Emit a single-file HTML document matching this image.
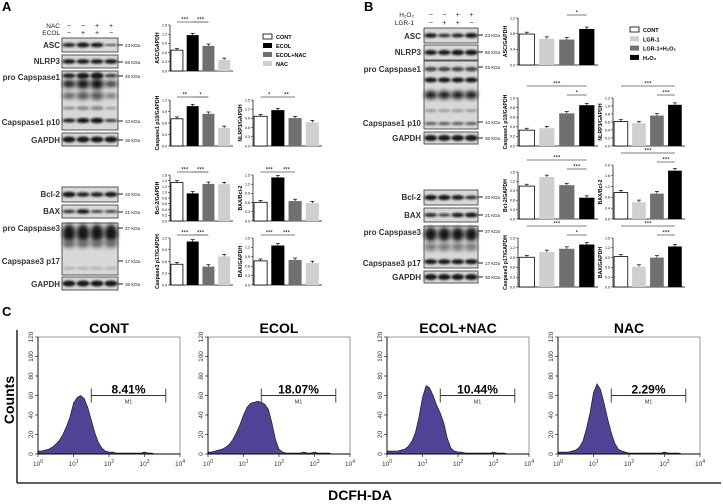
<!DOCTYPE html>
<html><head><meta charset="utf-8"><style>
html,body{margin:0;padding:0;background:#fff;}
svg{display:block;font-family:"Liberation Sans",Arial,sans-serif;}
</style></head><body>
<svg id="fig" width="723" height="504" viewBox="0 0 723 504" xmlns="http://www.w3.org/2000/svg">
<defs><filter id="blur" x="-20%" y="-50%" width="140%" height="200%"><feGaussianBlur stdDeviation="1.1"/></filter>
<filter id="blur2" x="-20%" y="-50%" width="140%" height="200%"><feGaussianBlur stdDeviation="2.2"/></filter></defs>
<text x="2" y="11" font-size="13" font-weight="bold">A</text>
<text x="364" y="11" font-size="13" font-weight="bold">B</text>
<text x="2" y="316" font-size="13" font-weight="bold">C</text>
<g id="root"></g>
</svg>
<script>
// ===== Bar chart data =====
const groupsA = ["CONT","ECOL","ECOL+NAC","NAC"];
const groupsB = ["CONT","LGR-1","LGR-1+H2O2","H2O2"];
const aAscValues = [0.68,1.17,0.82,0.36];
const aCasp1Values = [0.71,1.04,0.84,0.47];
const aNlrp3Values = [0.97,1.17,0.91,0.77];
const aBcl2Values = [1.34,0.96,1.29,1.28];
const aBaxBcl2Values = [0.61,1.42,0.65,0.58];
const aCasp3Values = [0.53,1.11,0.47,0.73];
const aBaxValues = [0.77,1.26,0.80,0.70];
const bAscValues = [0.79,0.67,0.65,0.92];
const bCasp1Values = [0.33,0.37,0.68,0.85];
const bNlrp3Values = [0.61,0.57,0.76,1.03];
const bBcl2Values = [1.05,1.34,1.08,0.68];
const bBaxBcl2Values = [0.98,0.62,0.94,1.79];
const bCasp3Values = [0.91,1.07,1.17,1.30];
const bBaxValues = [0.93,0.62,0.90,1.24];
// ===== Histogram data (counts at log10 = 0.0,0.1,...,4.0) =====
const histLogBins = [0,0.1,0.2,0.3,0.4,0.5,0.6,0.7,0.8,0.9,1.0,1.1,1.2,1.3,1.4,1.5,1.6,1.7,1.8,1.9,2.0,2.1,2.2,2.3,2.4,2.5,2.6,2.7,2.8,2.9,3.0,3.1,3.2,3.3,3.4,3.5,3.6,3.7,3.8,3.9,4.0];
const histCont = [3,3,4,5,7,10,14,20,28,38,52,58,60,57,48,35,22,12,6,3,2,2,1,1,1,1,1,1,1,1,2,1,1,0,0,0,0,0,0,0,0];
const histEcol = [2,2,3,4,5,7,10,15,22,30,40,48,52,53,54,53,51,46,32,15,5,2,1,1,1,1,1,2,1,1,2,1,1,1,1,0,0,0,0,0,0];
const histEcolNac = [3,3,3,3,4,5,8,13,22,38,58,70,68,60,50,42,32,16,6,3,2,2,1,1,1,1,1,1,1,1,2,1,1,1,0,0,0,0,0,0,0];
const histNac = [2,2,2,2,3,4,7,13,26,42,63,72,66,52,36,22,11,5,3,2,1,1,1,1,1,1,1,1,1,1,2,1,1,1,1,0,0,0,0,0,0];
const histTitles = ["CONT","ECOL","ECOL+NAC","NAC"];
const histPercents = ["8.41%","18.07%","10.44%","2.29%"];
const histYTicks = [0,20,40,60,80,100,120];
const histXTickExps = [0,1,2,3,4];

const NS="http://www.w3.org/2000/svg";
const root=document.getElementById('root');
function el(tag,attrs,parent,txt){const e=document.createElementNS(NS,tag);for(const k in attrs)e.setAttribute(k,attrs[k]);if(txt!==undefined)e.textContent=txt;(parent||root).appendChild(e);return e;}

// ===== Western blots =====
function blot(x,y,w,h,name,intens,rows){
  const g=el('g',{});
  
  
  el('rect',{x:x,y:y,width:w,height:h,fill:'#d8d8d8',stroke:'#333','stroke-width':0.8},g);
  const lw=w/4;
  rows.forEach(r=>{
    for(let i=0;i<4;i++){
      const k=intens[i]*(r.s||1);
      el('ellipse',{cx:x+lw*(i+0.5),cy:y+h*r.y,rx:lw*0.47,ry:r.ry*k,fill:r.c||'#151515',filter:r.b?'url(#blur2)':'url(#blur)',opacity:Math.min(1,0.55+0.5*k)},g);
    }
  });
}
function blotLabel(x,y,txt,name){const t=el('text',{x:x,y:y,'font-size':8,'font-weight':'bold','text-anchor':'end',fill:'#333'},root,txt);}
function kda(x,y,txt){el('line',{x1:x,y1:y,x2:x+5,y2:y,stroke:'#222','stroke-width':1});const t=el('text',{x:x+7,y:y+2,'font-size':4.5,fill:'#222'},root,txt);}
function plusMinus(x0,w,y,signs){for(let i=0;i<4;i++){el('text',{x:x0+w/4*(i+0.5),y:y,'font-size':7,'text-anchor':'middle',fill:'#222'},root,signs[i]);}}

// A blots
let ax=62,aw=56;
el('text',{x:60,y:28,'font-size':6.5,'text-anchor':'end',fill:'#222'},root,'NAC');
el('text',{x:60,y:35,'font-size':6.5,'text-anchor':'end',fill:'#222'},root,'ECOL');
plusMinus(ax,aw,28,['−','−','+','+']);plusMinus(ax,aw,35,['−','+','+','−']);
blot(ax,38,aw,14,'asc-blot-a',[0.8,1,0.9,0.4],[{y:0.5,ry:2.5}]);blotLabel(60,48,'ASC','asc-label');kda(118,45,'23 KDa');
blot(ax,55,aw,13,'nlrp3-blot-a',[1,1,1,1],[{y:0.5,ry:2.3}]);blotLabel(60,64,'NLRP3','nlrp3-label');kda(118,62,'85 KDa');
blot(ax,71,aw,59,'caspase1-blot-a',[0.8,1,1.1,0.6],[{y:0.08,ry:3},{y:0.22,ry:5,b:1},{y:0.42,ry:4,b:1,c:'#555'},{y:0.63,ry:2,c:'#888'},{y:0.84,ry:2.5}]);
blotLabel(60,80,'pro Capspase1','pro-caspase1-label');kda(118,76,'45 KDa');
blotLabel(60,125,'Capspase1 p10','caspase1-p10-label');kda(118,121,'10 KDa');
blot(ax,133,aw,13,'gapdh-blot-a',[1,1,1,1],[{y:0.5,ry:3}]);blotLabel(60,143,'GAPDH','gapdh-label');kda(118,140,'36 KDa');
blot(ax,187,aw,15,'bcl2-blot-a',[1,0.8,0.8,0.9],[{y:0.5,ry:2.8}]);blotLabel(60,197,'Bcl-2','bcl2-label');kda(118,194,'26 KDa');
blot(ax,205,aw,13,'bax-blot-a',[0.7,1,0.6,0.6],[{y:0.5,ry:2.3}]);blotLabel(60,214,'BAX','bax-label');kda(118,212,'21 KDa');
blot(ax,223,aw,52,'caspase3-blot-a',[1,1,1,1],[{y:0.2,ry:9,b:1},{y:0.4,ry:4,b:1,c:'#666'},{y:0.87,ry:1.2,c:'#aaa'}]);
blotLabel(60,231,'pro Capspase3','pro-caspase3-label');kda(118,228,'37 KDa');
blotLabel(60,264,'Capspase3 p17','caspase3-p17-label');kda(118,261,'17 KDa');
blot(ax,277,aw,13,'gapdh-blot-a2',[1,1,1,1],[{y:0.5,ry:3}]);blotLabel(60,287,'GAPDH','gapdh-label-2');kda(118,284,'36 KDa');

// B blots
let bx=424,bw=54;
el('text',{x:414,y:17,'font-size':6.5,'text-anchor':'end',fill:'#222'},root,'H₂O₂');
el('text',{x:414,y:25,'font-size':6.5,'text-anchor':'end',fill:'#222'},root,'LGR-1');
plusMinus(bx,bw,17,['−','−','+','+']);plusMinus(bx,bw,25,['−','+','+','−']);
blot(bx,28,bw,15,'asc-blot-b',[0.9,0.7,0.8,1],[{y:0.5,ry:2.5}]);blotLabel(421,39,'ASC','asc-label-b');kda(478,35,'23 KDa');
blot(bx,45,bw,15,'nlrp3-blot-b',[0.9,0.9,1,1],[{y:0.5,ry:2.8}]);blotLabel(421,55,'NLRP3','nlrp3-label-b');kda(478,52,'85 KDa');
blot(bx,61,bw,68,'caspase1-blot-b',[1,1,1,1],[{y:0.12,ry:2.3,c:'#444'},{y:0.28,ry:2.5},{y:0.5,ry:4,b:1},{y:0.73,ry:1.5,c:'#999'},{y:0.92,ry:1.5,c:'#555'}]);
blotLabel(421,72,'pro Capspase1','pro-caspase1-label-b');kda(478,67,'45 KDa');
blotLabel(421,126,'Capspase1 p10','caspase1-p10-label-b');kda(478,122,'10 KDa');
blot(bx,132,bw,12,'gapdh-blot-b',[1,1,1,1],[{y:0.5,ry:3}]);blotLabel(421,141,'GAPDH','gapdh-label-b');kda(478,138,'36 KDa');
blot(bx,190,bw,15,'bcl2-blot-b',[1,1,0.9,0.7],[{y:0.5,ry:2.6}]);blotLabel(421,200,'Bcl-2','bcl2-label-b');kda(478,197,'26 KDa');
blot(bx,208,bw,14,'bax-blot-b',[0.8,0.6,0.9,1],[{y:0.5,ry:2.4}]);blotLabel(421,218,'BAX','bax-label-b');kda(478,215,'21 KDa');
blot(bx,226,bw,42,'caspase3-blot-b',[1,1,1,1],[{y:0.2,ry:7,b:1},{y:0.5,ry:4,b:1,c:'#777'},{y:0.85,ry:2.5}]);
blotLabel(421,235,'pro Capspase3','pro-caspase3-label-b');kda(478,231,'37 KDa');
blotLabel(421,266,'Capspase3 p17','caspase3-p17-label-b');kda(478,263,'17 KDa');
blot(bx,271,bw,12,'gapdh-blot-b2',[1,1,1,1],[{y:0.5,ry:3}]);blotLabel(421,280,'GAPDH','gapdh-label-b2');kda(478,277,'36 KDa');

// ===== Bar charts =====
const colA=['#fff','#000','#707070','#cfcfcf'];
const colB=['#fff','#cfcfcf','#707070','#000'];
function bars(name,x0,x1,yT,yB,ymax,step,vals,cols,ylab,sigs){
  const g=el('g',{});
  
  
  const ys=v=>yB-(v/ymax)*(yB-yT);
  el('line',{x1:x0,y1:yT,x2:x0,y2:yB,stroke:'#000','stroke-width':0.7},g);
  el('line',{x1:x0,y1:yB,x2:x1,y2:yB,stroke:'#000','stroke-width':0.7},g);
  for(let v=0;v<=ymax+1e-9;v+=step){
    el('line',{x1:x0-2,y1:ys(v),x2:x0,y2:ys(v),stroke:'#000','stroke-width':0.5},g);
    el('text',{x:x0-3,y:ys(v)+1.3,'font-size':3.6,'text-anchor':'end'},g,v.toFixed(1));
  }
  const lt=el('text',{x:0,y:0,'font-size':5.2,'font-weight':'bold','text-anchor':'middle',transform:`translate(${x0-11},${(yT+yB)/2}) rotate(-90)`},g,ylab);
  
  const slot=(x1-x0)/4,bwid=slot*0.76;
  const cx=[];
  vals.forEach((v,i)=>{
    const bx=x0+i*slot+slot*0.06;cx.push(bx+bwid/2);
    const e=ymax*0.04;
    el('line',{x1:bx+bwid/2,y1:ys(v),x2:bx+bwid/2,y2:ys(v+e),stroke:'#000','stroke-width':0.7},g);
    el('line',{x1:bx+bwid/2-2,y1:ys(v+e),x2:bx+bwid/2+2,y2:ys(v+e),stroke:'#000','stroke-width':0.7},g);
    const r=el('rect',{x:bx,y:ys(v),width:bwid,height:yB-ys(v),fill:cols[i],stroke:cols[i]==='#fff'?'#000':'none','stroke-width':0.8},g);
    
    
  });
  sigs.forEach(s=>{
    const yy=yT-3-s[3]*9;
    el('line',{x1:cx[s[0]],y1:yy,x2:cx[s[1]],y2:yy,stroke:'#000','stroke-width':0.6},g);
    el('text',{x:(cx[s[0]]+cx[s[1]])/2,y:yy-0.5,'font-size':6,'text-anchor':'middle'},g,s[2]);
  });
}
bars('chart-a-asc',170,233,25,71,1.5,0.3,aAscValues,colA,'ASC/GAPDH',[[0,1,'***',0],[1,2,'***',0]]);
bars('chart-a-caspase1',170,233,100,146,1.2,0.3,aCasp1Values,colA,'Caspase1 p10/GAPDH',[[0,1,'**',0],[1,2,'*',0]]);
bars('chart-a-nlrp3',253,322,100,146,1.5,0.3,aNlrp3Values,colA,'NLRP3/GAPDH',[[0,1,'*',0],[1,2,'**',0]]);
bars('chart-a-bcl2',170,233,175,221,1.6,0.2,aBcl2Values,colA,'Bcl-2/GAPDH',[[0,1,'***',0],[1,2,'***',0]]);
bars('chart-a-bax-bcl2',253,322,175,221,1.5,0.3,aBaxBcl2Values,colA,'BAX/Bcl-2',[[0,1,'***',0],[1,2,'***',0]]);
bars('chart-a-caspase3',170,233,238,285,1.2,0.3,aCasp3Values,colA,'Caspase3 p17/GAPDH',[[0,1,'***',0],[1,2,'***',0]]);
bars('chart-a-bax',253,322,238,285,1.5,0.3,aBaxValues,colA,'BAX/GAPDH',[[0,1,'***',0],[1,2,'***',0]]);
bars('chart-b-asc',518,598,18,65,1.2,0.4,bAscValues,colB,'ASC/GAPDH',[[2,3,'*',0]]);
bars('chart-b-caspase1',518,598,98,146,1.0,0.2,bCasp1Values,colB,'Caspase1 p10/GAPDH',[[2,3,'*',0],[0,3,'***',1]]);
bars('chart-b-nlrp3',613,685,98,146,1.2,0.2,bNlrp3Values,colB,'NLRP3/GAPDH',[[2,3,'***',0],[0,3,'***',1]]);
bars('chart-b-bcl2',518,598,172,219,1.5,0.3,bBcl2Values,colB,'Bcl-2/GAPDH',[[2,3,'***',0],[0,3,'***',1]]);
bars('chart-b-bax-bcl2',613,685,165,219,2.0,0.4,bBaxBcl2Values,colB,'BAX/Bcl-2',[[2,3,'***',0],[0,3,'***',1]]);
bars('chart-b-caspase3',518,598,238,287,1.5,0.3,bCasp3Values,colB,'Caspase3 p17/GAPDH',[[2,3,'*',0],[0,3,'***',1]]);
bars('chart-b-bax',613,685,238,287,1.5,0.3,bBaxValues,colB,'BAX/GAPDH',[[2,3,'***',0],[0,3,'***',1]]);

function legend(x,y0,dy,names,cols,name){
  const g=el('g',{});
  
  
  names.forEach((n,i)=>{
    const y=y0+i*dy;
    el('rect',{x:x,y:y-3,width:9,height:5,fill:cols[i],stroke:cols[i]==='#fff'?'#000':'none','stroke-width':0.8},g);
    const t=el('text',{x:x+13,y:y+2,'font-size':5.5,'font-weight':'bold'},g,n.replace('H2O2','H₂O₂'));
    
    
  });
}
legend(263,37,9,groupsA,colA,'legend-a');
legend(630,30,9.3,groupsB,colB,'legend-b');

// ===== Flow histograms =====
const hx=[38,208,387,558],hw=142,hT=337,hB=454;
const hists=[histCont,histEcol,histEcolNac,histNac];
hists.forEach((data,k)=>{
  const g=el('g',{});
  
  
  const x0=hx[k];
  const xs=l=>x0+l/4*hw, ys=c=>hB-c/120*(hB-hT);
  el('rect',{x:x0,y:hT,width:hw,height:hB-hT,fill:'none',stroke:'#555','stroke-width':0.6},g);
  let d=`M${xs(histLogBins[0])},${hB}`;
  histLogBins.forEach((l,i)=>{d+=` L${xs(l)},${ys(data[i])}`;});
  d+=` L${xs(histLogBins[histLogBins.length-1])},${hB} Z`;
  el('path',{d:d,fill:'#4f4396',stroke:'#111','stroke-width':0.6},g);
  el('line',{x1:x0,y1:hT,x2:x0,y2:hB,stroke:'#000','stroke-width':0.9},g);
  el('line',{x1:x0,y1:hB,x2:x0+hw,y2:hB,stroke:'#000','stroke-width':0.9},g);
  histYTicks.forEach(v=>{
    el('line',{x1:x0-3,y1:ys(v),x2:x0,y2:ys(v),stroke:'#000','stroke-width':0.6},g);
    el('text',{x:0,y:0,'font-size':6.5,'text-anchor':'middle',fill:'#333',transform:`translate(${x0-5},${ys(v)}) rotate(-90)`},g,v);
  });
  histXTickExps.forEach(e=>{
    el('line',{x1:xs(e),y1:hB,x2:xs(e),y2:hB+3,stroke:'#000','stroke-width':0.6},g);
    const t=el('text',{x:xs(e),y:hB+12,'font-size':6.5,'text-anchor':'middle',fill:'#333'},g);
    el('tspan',{},t,'10');el('tspan',{dy:-3,'font-size':5},t,String(e));
  });
  const title=el('text',{x:x0+hw/2,y:hT-4,'font-size':14,'font-weight':'bold','text-anchor':'middle'},g,histTitles[k]);
  
  const m1=ys(60),mx0=xs(1.5),mx1=xs(3.6);
  el('line',{x1:mx0,y1:m1,x2:mx1,y2:m1,stroke:'#333','stroke-width':0.9},g);
  el('line',{x1:mx0,y1:m1-7,x2:mx0,y2:m1+7,stroke:'#333','stroke-width':0.9},g);
  el('line',{x1:mx1,y1:m1-7,x2:mx1,y2:m1+7,stroke:'#333','stroke-width':0.9},g);
  const pt=el('text',{x:(mx0+mx1)/2,y:m1-2,'font-size':12,'font-weight':'bold','text-anchor':'middle'},g,histPercents[k]);
  
  el('text',{x:(mx0+mx1)/2,y:m1+8,'font-size':5.5,'text-anchor':'middle',fill:'#333'},g,'M1');
});
el('line',{x1:17,y1:330,x2:17,y2:483,stroke:'#000','stroke-width':1.3});
el('line',{x1:17,y1:483,x2:721,y2:483,stroke:'#000','stroke-width':1.3});
const cy=el('text',{x:0,y:0,'font-size':14,'font-weight':'bold','text-anchor':'middle',transform:'translate(14,400) rotate(-90)'},root,'Counts');

const cx=el('text',{x:360,y:500,'font-size':14,'font-weight':'bold','text-anchor':'middle'},root,'DCFH-DA');

</script>
</body></html>
